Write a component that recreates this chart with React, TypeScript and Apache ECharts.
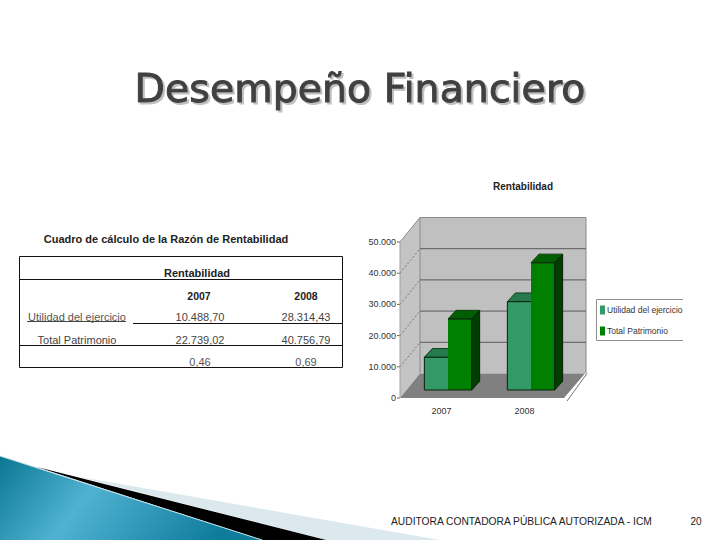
import React, { useEffect, useRef } from "react";
import * as echarts from "echarts";

const categories = ["2007", "2008"];
const seriesNames = ["Utilidad del ejercicio", "Total Patrimonio"];
const utilidad = [10488.7, 28314.43];
const patrimonio = [22739.02, 40756.79];
const yTicks = [0, 10000, 20000, 30000, 40000, 50000];
const tableHeading = "Cuadro de cálculo de la Razón de Rentabilidad";
const tableTitle = "Rentabilidad";
const rowLabels = ["Utilidad del ejercicio", "Total Patrimonio"];
const row2007 = ["2007", "10.488,70", "22.739,02", "0,46"];
const row2008 = ["2008", "28.314,43", "40.756,79", "0,69"];

const SANS = '"Liberation Sans", Arial, sans-serif';

const DX = 20, DY = -24.5;

function poly(points: number[][], fill: string, stroke?: string) {
  return { type: "polygon", shape: { points }, style: { fill, stroke: stroke || "none", lineWidth: stroke ? 1 : 0 }, silent: true };
}
function seg(x1: number, y1: number, x2: number, y2: number, stroke: string, extra: any = {}) {
  return { type: "line", shape: { x1, y1, x2, y2 }, style: { stroke, lineWidth: 1, ...extra }, silent: true };
}

function renderFrame(params: any, api: any) {
  const c = params.coordSys;
  const l = c.x, r = c.x + c.width, t = c.y, b = c.y + c.height;
  const children: any[] = [
    poly([[l + DX, t + DY], [r + DX, t + DY], [r + DX, b + DY], [l + DX, b + DY]], "#c0c0c0"),
    poly([[l, t], [l + DX, t + DY], [l + DX, b + DY], [l, b]], "#c4c4c4"),
    poly([[l, b], [l + DX, b + DY], [r + DX - 1, b + DY], [r - 2, b]], "#808080"),
    seg(r + 1, b + 3, r + DX + 1, b + DY, "#777777"),
    seg(l + DX, t + DY, r + DX, t + DY, "#8a8a8a"),
    seg(r + DX, t + DY, r + DX, b + DY, "#8a8a8a"),
    seg(l + DX, t + DY, l + DX, b + DY, "#8a8a8a"),
    seg(l, t, l + DX, t + DY, "#8a8a8a"),
  ];
  yTicks.forEach((v) => {
    const y = api.coord([0, v])[1];
    if (v > 0 && v < 50000) {
      children.push(seg(l + DX, y + DY, r + DX, y + DY, "#5a5a5a"));
      children.push(seg(l, y, l + DX, y + DY, "#777777", { lineDash: [2, 2] }));
    }
    children.push(seg(l - 3, y, l, y, "#666666"));
  });
  children.push(seg(l, t, l, b, "#a0a0a0"));
  return { type: "group", children };
}

function barRenderer(offset: number, front: string, top: string, side: string) {
  return (params: any, api: any) => {
    const idx = api.value(0);
    const base = api.coord([idx, 0]);
    const peak = api.coord([idx, api.value(1)]);
    const w = api.size([1, 0])[0] * 0.285;
    const sx = 6.5, sy = -8, dx = 8, dy = -8.7;
    const x1 = base[0] + sx + offset * w;
    const x2 = x1 + w;
    const yb = base[1] + sy;
    const yt = peak[1] + sy;
    // the outline stays open where the two bars of a group touch
    const outline = offset < 0
      ? [[x2, yt], [x1, yt], [x1, yb], [x2, yb]]
      : [[x1, yt], [x2, yt], [x2, yb], [x1, yb]];
    return {
      type: "group",
      children: [
        poly([[x1, yt], [x1 + dx, yt + dy], [x2 + dx, yt + dy], [x2, yt]], top, "#123d12"),
        poly([[x2, yt], [x2 + dx, yt + dy], [x2 + dx, yb + dy], [x2, yb]], side, "#0a1f0a"),
        poly([[x1, yb], [x1, yt], [x2, yt], [x2, yb]], front),
        { type: "polyline", silent: true, shape: { points: outline }, style: { fill: "none", stroke: "#0b1f0b", lineWidth: 1 } },
      ],
    };
  };
}

function txt(text: string, x: number, y: number, fontSize: number, fill: string, bold = false, align = "center") {
  return {
    type: "text",
    x,
    y,
    silent: true,
    style: { text, fill, fontSize, fontFamily: SANS, fontWeight: bold ? "bold" : "normal", textAlign: align, textVerticalAlign: "middle" },
  };
}

function buildGraphic() {
  const els: any[] = [
    poly([[80, 477], [440, 540], [326, 540]], "#dbe9ef"),
    poly([[37, 467], [326, 540], [262, 540]], "#000000"),
    {
      type: "polygon",
      silent: true,
      shape: { points: [[0, 456], [262, 540], [0, 540]] },
      style: {
        fill: {
          type: "linear", x: 0, y: 0, x2: 1, y2: 0.25,
          colorStops: [
            { offset: 0, color: "#0a7792" },
            { offset: 0.42, color: "#50b2d2" },
            { offset: 0.75, color: "#2c93b5" },
            { offset: 1, color: "#0f7c9c" },
          ],
        },
      },
    },
    seg(0, 456, 262, 540, "#bfe0ea"),
    // table frame
    { type: "rect", silent: true, shape: { x: 19.5, y: 256.5, width: 323, height: 111 }, style: { fill: "none", stroke: "#111111", lineWidth: 1 } },
    seg(19.5, 279.5, 342.5, 279.5, "#111111"),
    seg(19.5, 345.5, 342.5, 345.5, "#111111"),
    seg(133, 323.5, 342.5, 323.5, "#111111"),
    seg(27, 321.5, 126, 321.5, "#444444"),
    // legend box, open on the right
    { type: "polyline", silent: true, shape: { points: [[683, 299.5], [596.5, 299.5], [596.5, 340.5], [683, 340.5]] }, style: { fill: "none", stroke: "#8f8f8f", lineWidth: 1 } },
    txt(tableHeading, 166, 238.5, 11, "#222222", true),
    txt(tableTitle, 197, 272.5, 11, "#222222", true),
    txt(rowLabels[0], 77, 316.5, 11, "#555555"),
    txt(rowLabels[1], 77, 339.5, 11, "#444444"),
    txt("AUDITORA CONTADORA PÚBLICA AUTORIZADA - ICM", 391, 521.5, 10.25, "#222222", false, "left"),
    txt("20", 696, 521.5, 10, "#222222"),
  ];
  [row2007, row2008].forEach((col, i) => {
    const cx = i === 0 ? 200 : 306;
    els.push(txt(col[0], cx - (i === 0 ? 1 : 0), 296, 10.5, "#222222", true));
    els.push(txt(col[1], cx, 316.5, 11, "#444444"));
    els.push(txt(col[2], cx, 339.5, 11, "#444444"));
    els.push(txt(col[3], cx, 362, 11, "#555555"));
  });
  return els;
}

export default function App() {
  const ref = useRef<HTMLDivElement>(null);
  useEffect(() => {
    document.body.style.margin = "0";
    const chart = echarts.init(ref.current!, null, { renderer: "svg" });
    chart.setOption({
      animation: false,
      backgroundColor: "#ffffff",
      title: [
        {
          text: "Desempeño Financiero",
          left: 355,
          top: 63,
          textAlign: "center",
          textStyle: {
            fontFamily: '"DejaVu Sans", sans-serif',
            fontSize: 39.5,
            fontWeight: "normal",
            color: "#404040",
            textBorderColor: "#404040",
            textBorderWidth: 1,
            textShadowColor: "#c0c0c0",
            textShadowBlur: 1,
            textShadowOffsetX: 2,
            textShadowOffsetY: 2,
          },
        },
        {
          text: "Rentabilidad",
          left: 518,
          top: 176,
          textAlign: "center",
          textStyle: { fontFamily: SANS, fontSize: 10, fontWeight: "bold", color: "#222222" },
        },
      ],
      grid: { left: 400, top: 242, width: 166, height: 156 },
      xAxis: {
        type: "category",
        data: categories,
        axisLine: { show: false },
        axisTick: { show: false },
        axisLabel: { fontFamily: SANS, fontSize: 9, color: "#333333", margin: 8 },
      },
      yAxis: {
        type: "value",
        min: 0,
        max: 50000,
        interval: 10000,
        splitLine: { show: false },
        axisLine: { show: false },
        axisTick: { show: false },
        axisLabel: {
          fontFamily: SANS,
          fontSize: 9,
          color: "#333333",
          margin: 4,
          formatter: (v: number) => (v === 0 ? "0" : `${v / 1000}.000`),
        },
      },
      legend: {
        data: seriesNames,
        orient: "vertical",
        left: 600,
        top: 305.5,
        padding: 0,
        itemWidth: 5,
        itemHeight: 9,
        itemGap: 12,
        icon: "rect",
        selectedMode: false,
        textStyle: { fontFamily: SANS, fontSize: 8.5, color: "#333333", padding: [0, 0, 0, -3] },
      },
      series: [
        {
          type: "custom",
          name: "frame",
          silent: true,
          clip: false,
          renderItem: renderFrame,
          encode: { x: 0, y: 1 },
          data: [[0, 0]],
        },
        {
          type: "custom",
          name: seriesNames[0],
          clip: false,
          itemStyle: { color: "#339966" },
          renderItem: barRenderer(-1, "#339966", "#267a50", "#1c5a3a"),
          encode: { x: 0, y: 1 },
          data: categories.map((_, i) => [i, utilidad[i]]),
        },
        {
          type: "custom",
          name: seriesNames[1],
          clip: false,
          itemStyle: { color: "#008000" },
          renderItem: barRenderer(0, "#008000", "#005f00", "#003f00"),
          encode: { x: 0, y: 1 },
          data: categories.map((_, i) => [i, patrimonio[i]]),
        },
      ],
      graphic: buildGraphic(),
    });
    return () => chart.dispose();
  }, []);
  return <div ref={ref} style={{ position: "absolute", left: 0, top: 0, width: 720, height: 540 }} />;
}
